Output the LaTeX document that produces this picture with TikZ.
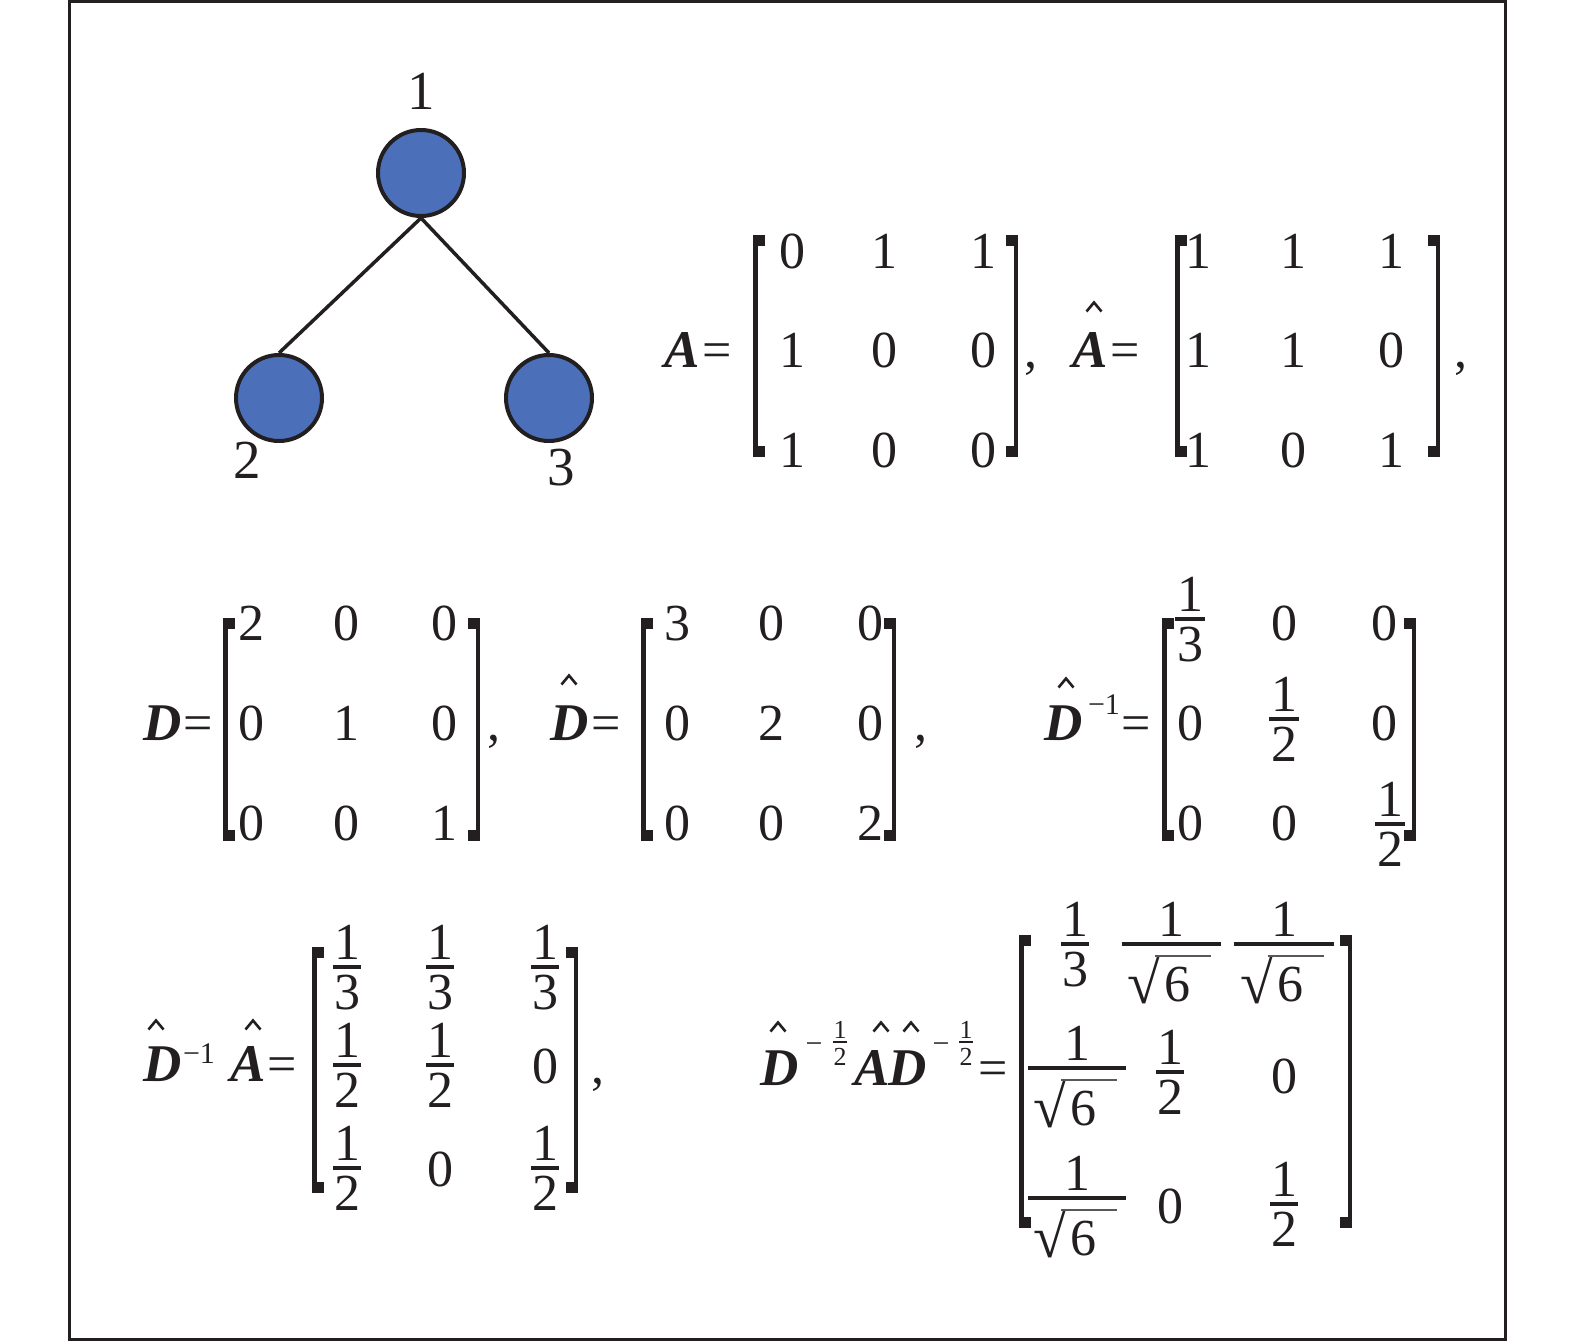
\documentclass[tikz,border=0pt]{standalone}
\usepackage{fontspec}
\setmainfont{Liberation Serif}
\definecolor{ink}{HTML}{231F20}
\definecolor{nodeblue}{HTML}{4B70B9}
\newcommand\LBr[3]{%
  \fill[ink] (#1,#2) rectangle (#1+4.5,#3);
  \fill[ink] (#1,#2) rectangle (#1+12,#2+11);
  \fill[ink] (#1,#3) rectangle (#1+12,#3-11);}
\newcommand\RBr[3]{%
  \fill[ink] (#1,#2) rectangle (#1-4.5,#3);
  \fill[ink] (#1,#2) rectangle (#1-12,#2+11);
  \fill[ink] (#1,#3) rectangle (#1-12,#3-11);}
\newcommand\Fr[6]{%
  \node[dig] (#1n) at (#2,#3-8) {#4};
  \draw[fbar] (#2-#6/2,#3) -- (#2+#6/2,#3);
  \node[dig] (#1d) at (#2,#3+42) {#5};}
\newcommand\Rt[4]{%
  \node[dig] (#1n) at (#2,#3-8) {1};
  \draw[fbar] (#2-#4/2,#3) -- (#2+#4/2,#3);
  \node[radg] (#1r) at (#2-27,#3+59) {\char"221A};
  \node[dig] (#1d) at (#2+6,#3+57) {6};
  \draw[rad] (#2-16,#3+12) -- (#2+40,#3+12);}
\newcommand\HatMark[2]{\draw[hatmark] (#1-7.5,#2+4.5) -- (#1,#2-4.5) -- (#1+7.5,#2+4.5);}
\newcommand\SFr[3]{%
  \node[tiny] (#1n) at (#2,#3-4) {1};
  \draw[ink, line width=2pt] (#2-7,#3) -- (#2+7,#3);
  \node[tiny] (#1d) at (#2,#3+23) {2};}
\begin{document}
\begin{tikzpicture}[x=1pt,y=-1pt,
  dig/.style={inner sep=0pt, anchor=base, font=\fontsize{52}{60}\selectfont, text=ink},
  radg/.style={inner sep=0pt, anchor=base, font=\fontsize{60}{66}\selectfont, text=ink},
  lbl/.style={inner sep=0pt, anchor=center, font=\fontsize{55}{60}\selectfont, text=ink},
  sym/.style={inner sep=0pt, anchor=base, font=\fontsize{53}{60}\selectfont\bfseries\itshape, text=ink},
  supr/.style={inner sep=0pt, anchor=base, font=\fontsize{30}{34}\selectfont, text=ink},
  tiny/.style={inner sep=0pt, anchor=base, font=\fontsize{26}{30}\selectfont, text=ink},
  vertex/.style={circle, fill=nodeblue, draw=ink, line width=4pt, minimum size=86pt, inner sep=0pt},
  edge/.style={draw=ink, line width=3.5pt},
  fbar/.style={draw=ink, line width=3.5pt},
  hatmark/.style={draw=ink, line width=2.6pt, line join=miter},
  rad/.style={draw=ink!75, line width=2.2pt}
]
\useasboundingbox (0,0) rectangle (1575,1341);
\fill[white] (0,0) rectangle (1575,1341);
\draw[ink, line width=2.7pt] (69.7,1.3) rectangle (1505.3,1339.7);

% graph
\node[vertex] (n1) at (421,173) {};
\node[vertex] (n2) at (279,398) {};
\node[vertex] (n3) at (549,398) {};
\draw[edge] (n1.south) -- (n2.north);
\draw[edge] (n1.south) -- (n3.north);
\node[lbl] (l1) at (421,91) {1};
\node[lbl] (l2) at (247,460) {2};
\node[lbl] (l3) at (561,468) {3};

% A
\node[sym] (Asym) at (682,367) {A};
\node[dig] (Aeq) at (717,367) {=};
\LBr{753}{235}{457}
\RBr{1018}{235}{457}
\node[dig] (a11) at (792,268) {0};
\node[dig] (a12) at (884,268) {1};
\node[dig] (a13) at (983,268) {1};
\node[dig] (a21) at (792,367) {1};
\node[dig] (a22) at (884,367) {0};
\node[dig] (a23) at (983,367) {0};
\node[dig] (a31) at (792,467) {1};
\node[dig] (a32) at (884,467) {0};
\node[dig] (a33) at (983,467) {0};
\node[dig] (Acom) at (1031,367) {,};

% A hat
\HatMark{1094}{307}
\node[sym] (Hsym) at (1090,367) {A};
\node[dig] (Heq) at (1125,367) {=};
\LBr{1175}{235}{457}
\RBr{1440}{235}{457}
\node[dig] (h11) at (1198,268) {1};
\node[dig] (h12) at (1293,268) {1};
\node[dig] (h13) at (1391,268) {1};
\node[dig] (h21) at (1198,367) {1};
\node[dig] (h22) at (1293,367) {1};
\node[dig] (h23) at (1391,367) {0};
\node[dig] (h31) at (1198,467) {1};
\node[dig] (h32) at (1293,467) {0};
\node[dig] (h33) at (1391,467) {1};
\node[dig] (Hcom) at (1461,367) {,};

% D
\node[sym] (Dsym) at (163,740) {D};
\node[dig] (Deq) at (198,740) {=};
\LBr{223}{618}{841}
\RBr{480}{618}{841}
\node[dig] (d11) at (251,640) {2};
\node[dig] (d12) at (346,640) {0};
\node[dig] (d13) at (444,640) {0};
\node[dig] (d21) at (251,740) {0};
\node[dig] (d22) at (346,740) {1};
\node[dig] (d23) at (444,740) {0};
\node[dig] (d31) at (251,840) {0};
\node[dig] (d32) at (346,840) {0};
\node[dig] (d33) at (444,840) {1};
\node[dig] (Dcom) at (494,740) {,};

% D hat
\HatMark{569}{680}
\node[sym] (Esym) at (570,740) {D};
\node[dig] (Eeq) at (606,740) {=};
\LBr{641}{618}{841}
\RBr{896}{618}{841}
\node[dig] (e11) at (677,640) {3};
\node[dig] (e12) at (771,640) {0};
\node[dig] (e13) at (870,640) {0};
\node[dig] (e21) at (677,740) {0};
\node[dig] (e22) at (771,740) {2};
\node[dig] (e23) at (870,740) {0};
\node[dig] (e31) at (677,840) {0};
\node[dig] (e32) at (771,840) {0};
\node[dig] (e33) at (870,840) {2};
\node[dig] (Ecom) at (921,740) {,};

% D hat inverse
\HatMark{1066}{683}
\node[sym] (Fsym) at (1064,740) {D};
\node[supr] (Fsup) at (1104,714) {\char"2212 1};
\node[dig] (Feq) at (1136,740) {=};
\LBr{1162}{618}{841}
\RBr{1416}{618}{841}
\Fr{f11}{1190}{619}{1}{3}{30}
\node[dig] (f12) at (1284,640) {0};
\node[dig] (f13) at (1384,640) {0};
\node[dig] (f21) at (1190,740) {0};
\Fr{f22}{1284}{719}{1}{2}{30}
\node[dig] (f23) at (1384,740) {0};
\node[dig] (f31) at (1190,840) {0};
\node[dig] (f32) at (1284,840) {0};
\Fr{f33}{1390}{824}{1}{2}{30}

% D hat inverse A hat
\HatMark{156}{1025}
\node[sym] (Gsym) at (163,1081) {D};
\node[supr] (Gsup) at (199,1063) {\char"2212 1};
\HatMark{253}{1025}
\node[sym] (Gsym2) at (248,1081) {A};
\node[dig] (Geq) at (282,1081) {=};
\LBr{312}{947}{1193}
\RBr{578}{947}{1193}
\Fr{g11}{347}{967}{1}{3}{28}
\Fr{g12}{440}{967}{1}{3}{28}
\Fr{g13}{545}{967}{1}{3}{28}
\Fr{g21}{347}{1065}{1}{2}{28}
\Fr{g22}{440}{1065}{1}{2}{28}
\node[dig] (g23) at (545,1083) {0};
\Fr{g31}{347}{1168}{1}{2}{28}
\node[dig] (g32) at (440,1186) {0};
\Fr{g33}{545}{1168}{1}{2}{28}
\node[dig] (Gcom) at (598,1083) {,};

% normalized
\HatMark{778}{1027}
\node[sym] (Ksym) at (780,1085) {D};
\node[supr] (Km1) at (814,1053) {\char"2212};
\SFr{ks1}{840}{1042}
\HatMark{881}{1027}
\node[sym] (Ksym2) at (872,1085) {A};
\HatMark{911}{1027}
\node[sym] (Ksym3) at (908,1085) {D};
\node[supr] (Km2) at (941,1053) {\char"2212};
\SFr{ks2}{966}{1042}
\node[dig] (Keq) at (993,1085) {=};
\LBr{1019}{935}{1228}
\RBr{1352}{935}{1228}
\Fr{k11}{1075}{944}{1}{3}{28}
\Rt{k12}{1171}{944}{99}
\Rt{k13}{1284}{944}{100}
\Rt{k21}{1077}{1068}{98}
\Fr{k22}{1170}{1072}{1}{2}{28}
\node[dig] (k23) at (1284,1093) {0};
\Rt{k31}{1077}{1198}{98}
\node[dig] (k32) at (1170,1223) {0};
\Fr{k33}{1284}{1204}{1}{2}{28}
\end{tikzpicture}
\end{document}
